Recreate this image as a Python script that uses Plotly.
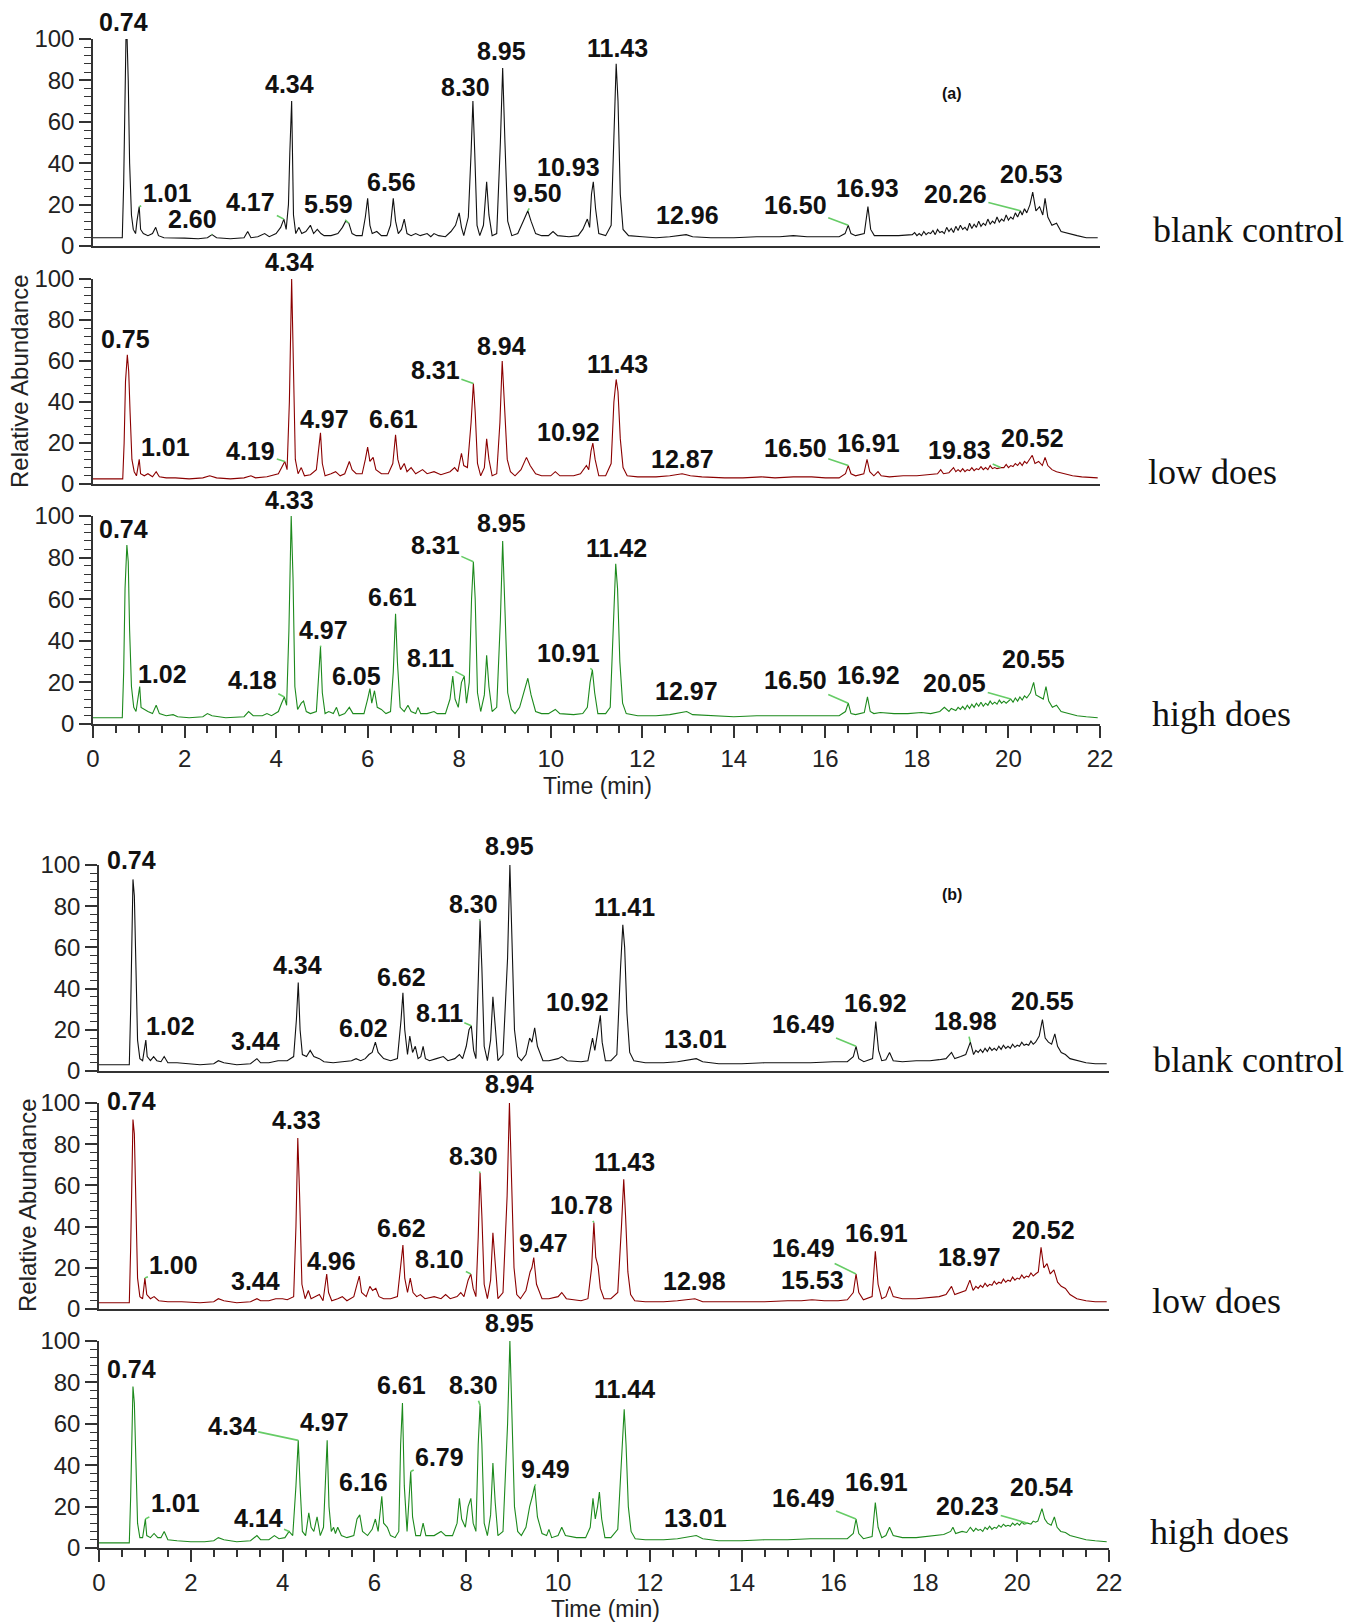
import numpy as np
import plotly.graph_objects as go

W, H = 1357, 1622

# ---------------- data: (time [min], relative abundance [%])
A_BLANK = [(0,4),(0.64,4),(0.67,30),(0.70,80),(0.72,100),(0.745,100),(0.77,80),(0.80,40),(0.84,15),(0.88,8),(0.93,6),(0.96,12),(1.01,19),(1.04,8),(1.1,6),(1.2,5),(1.3,6),(1.37,9),(1.43,5),(1.55,4),(1.75,4),(2.0,3.8),(2.3,3.5),(2.5,4),(2.6,5.5),(2.7,4),(3.0,3.5),(3.3,4),(3.38,7),(3.45,4),(3.6,4.5),(3.75,6),(3.85,4.5),(4.0,6),(4.1,9),(4.17,13),(4.22,8),(4.27,20),(4.30,45),(4.34,70),(4.38,15),(4.43,6),(4.5,9),(4.56,6),(4.65,7),(4.75,10),(4.82,6),(4.9,8),(4.98,6),(5.05,5),(5.2,5),(5.35,6),(5.45,9),(5.52,12),(5.59,11),(5.66,6),(5.75,5),(5.88,5),(5.95,14),(6.0,23),(6.05,10),(6.1,6),(6.2,7),(6.3,5),(6.42,5),(6.5,10),(6.56,23),(6.61,12),(6.67,6),(6.74,8),(6.8,13),(6.86,6),(6.95,5),(7.05,6),(7.15,5),(7.3,6),(7.38,4.5),(7.45,6),(7.55,5),(7.7,4.5),(7.82,7),(7.92,10),(8.0,16),(8.05,9),(8.1,5),(8.2,14),(8.26,45),(8.30,70),(8.34,45),(8.39,10),(8.45,5),(8.53,10),(8.6,31),(8.65,15),(8.72,5),(8.82,6),(8.9,50),(8.95,86),(9.0,50),(9.06,12),(9.15,5),(9.28,6),(9.4,12),(9.5,17),(9.57,12),(9.67,6),(9.8,5),(9.95,5),(10.05,7),(10.15,5),(10.4,4.5),(10.6,5),(10.7,8),(10.8,13),(10.85,9),(10.89,25),(10.93,31),(10.98,18),(11.05,6),(11.2,5),(11.32,10),(11.38,55),(11.43,88),(11.47,70),(11.52,25),(11.58,8),(11.7,5),(12.0,4.5),(12.3,4),(12.6,4.5),(12.85,5),(12.96,5.5),(13.1,4.5),(13.5,4),(14.0,4),(14.5,4.5),(15.0,4.5),(15.3,5),(15.6,4.5),(16.0,4.5),(16.3,4.5),(16.43,6),(16.5,10),(16.56,6),(16.66,5),(16.85,6),(16.93,19),(16.99,8),(17.07,5),(17.3,5),(17.6,5),(17.9,5.5),(17.95,6.5),(18.0,5),(18.05,6),(18.1,5),(18.15,7),(18.2,5.5),(18.25,6.5),(18.3,6),(18.35,7.5),(18.4,5.5),(18.45,8),(18.5,6.5),(18.55,7),(18.6,6),(18.65,9),(18.7,7),(18.75,8.5),(18.8,6.5),(18.85,9.5),(18.9,7.5),(18.95,10),(19.0,8),(19.05,9),(19.1,7.5),(19.15,11),(19.2,8.5),(19.25,10.5),(19.3,9),(19.35,12),(19.4,9.5),(19.45,11),(19.5,10),(19.55,13),(19.6,10.5),(19.65,12),(19.7,11),(19.75,14),(19.8,11.5),(19.85,13),(19.9,12),(19.95,15),(20.0,12.5),(20.05,14),(20.1,13),(20.15,16),(20.2,14),(20.26,17),(20.3,15),(20.35,18),(20.4,16),(20.47,20),(20.53,26),(20.6,17),(20.68,19),(20.75,15),(20.8,23),(20.86,14),(20.95,10),(21.05,11),(21.15,7),(21.3,6),(21.5,5),(21.7,4),(21.95,4)]

A_LOW = [(0,2.5),(0.65,2.5),(0.68,20),(0.71,50),(0.75,63),(0.78,55),(0.81,35),(0.85,12),(0.9,6),(0.95,4),(1.01,12),(1.04,5),(1.12,4),(1.2,5),(1.3,3.5),(1.38,6),(1.45,3.5),(1.6,3),(1.8,3),(2.1,2.5),(2.4,3),(2.55,4),(2.7,3),(3.0,2.5),(3.3,3),(3.45,4),(3.55,3),(3.8,3.5),(4.05,5),(4.12,8),(4.19,11),(4.24,7),(4.29,40),(4.34,100),(4.38,60),(4.42,12),(4.48,5),(4.55,8),(4.62,4),(4.75,4.5),(4.88,7),(4.93,18),(4.97,25),(5.01,10),(5.07,4),(5.2,5),(5.3,6),(5.4,4),(5.5,5),(5.6,11),(5.66,7),(5.75,5),(5.88,5),(5.95,12),(6.0,18),(6.05,11),(6.12,13),(6.18,7),(6.3,5),(6.45,5),(6.55,10),(6.61,24),(6.66,12),(6.72,7),(6.8,10),(6.86,6),(6.95,8),(7.05,5),(7.2,7),(7.3,5),(7.45,6),(7.6,4.5),(7.8,6),(7.9,8),(7.97,6),(8.05,15),(8.1,9),(8.18,8),(8.26,30),(8.31,49),(8.35,35),(8.4,10),(8.47,4),(8.55,8),(8.6,22),(8.65,12),(8.72,4),(8.82,5),(8.89,30),(8.94,60),(8.99,40),(9.05,12),(9.12,6),(9.22,4),(9.35,7),(9.47,13),(9.55,9),(9.67,5),(9.8,4),(10.0,4),(10.1,6),(10.2,4),(10.5,4),(10.65,5),(10.78,9),(10.83,7),(10.88,16),(10.92,20),(10.97,12),(11.05,4),(11.2,4),(11.32,10),(11.38,40),(11.43,51),(11.47,45),(11.52,22),(11.58,8),(11.67,4),(11.9,3.5),(12.3,3.5),(12.6,4),(12.87,5),(13.05,4),(13.3,3.5),(13.8,3),(14.2,3),(14.6,3.5),(14.9,3),(15.3,3.5),(15.7,3.5),(16.0,3),(16.3,3),(16.44,5),(16.5,9),(16.56,5),(16.66,4),(16.84,5),(16.91,12),(16.97,6),(17.06,4),(17.15,6),(17.22,4),(17.4,3.5),(17.7,4),(18.0,4),(18.3,4.5),(18.45,5),(18.52,7),(18.58,5),(18.7,5.5),(18.75,7),(18.8,8),(18.85,6),(18.9,7),(18.95,6),(19.0,7.5),(19.05,6),(19.1,7),(19.15,6.5),(19.2,8),(19.25,6.5),(19.3,7.5),(19.35,7),(19.4,8.5),(19.45,7),(19.5,8),(19.55,7),(19.6,9),(19.65,7.5),(19.7,8),(19.75,7.5),(19.83,8),(19.9,8),(19.95,9.5),(20.0,8),(20.05,9),(20.1,8.5),(20.15,10),(20.2,9),(20.25,10.5),(20.3,9),(20.35,11),(20.4,10),(20.47,12),(20.52,14),(20.58,10),(20.66,11),(20.74,9),(20.8,13),(20.86,9),(20.95,7),(21.05,6),(21.2,5),(21.4,4),(21.6,3.5),(21.95,3)]

A_HIGH = [(0,3),(0.64,3),(0.67,25),(0.70,65),(0.74,86),(0.77,78),(0.80,45),(0.84,18),(0.89,8),(0.94,6),(0.98,12),(1.02,18),(1.05,8),(1.12,7),(1.2,6),(1.3,5),(1.38,9),(1.45,5),(1.6,4),(1.75,4.5),(1.85,3.5),(2.1,3),(2.4,3.5),(2.5,5),(2.6,4),(2.9,3),(3.3,3.5),(3.4,6),(3.5,4),(3.7,4),(3.8,5),(3.9,4),(4.05,6),(4.12,10),(4.18,13),(4.23,9),(4.28,45),(4.33,100),(4.37,70),(4.41,18),(4.47,7),(4.55,10),(4.6,11),(4.66,6),(4.75,5),(4.88,6),(4.93,25),(4.97,37),(5.01,15),(5.07,5),(5.15,6),(5.25,5),(5.32,8),(5.38,4),(5.5,5),(5.6,8),(5.68,5),(5.8,5),(5.92,5),(6.0,12),(6.05,17),(6.09,10),(6.15,16),(6.21,8),(6.3,7),(6.4,5),(6.5,6),(6.56,25),(6.61,53),(6.65,30),(6.71,8),(6.8,6),(6.88,9),(6.95,6),(7.05,5),(7.1,8),(7.16,5),(7.3,5),(7.45,6),(7.52,5),(7.7,5),(7.8,12),(7.86,23),(7.91,12),(7.98,8),(8.05,20),(8.11,23),(8.16,10),(8.22,20),(8.27,60),(8.31,78),(8.35,60),(8.4,15),(8.47,6),(8.55,14),(8.6,33),(8.65,18),(8.72,6),(8.82,8),(8.9,50),(8.95,88),(9.0,55),(9.06,15),(9.14,7),(9.22,5),(9.32,8),(9.43,16),(9.5,22),(9.57,14),(9.67,6),(9.8,5),(9.95,5),(10.1,7),(10.2,5),(10.5,4.5),(10.7,5),(10.8,8),(10.86,20),(10.91,26),(10.96,15),(11.03,5),(11.2,5),(11.3,8),(11.37,50),(11.42,77),(11.46,65),(11.51,30),(11.57,10),(11.65,5),(11.9,4),(12.3,4),(12.6,4.5),(12.85,5.5),(12.97,6),(13.1,4.5),(13.5,4),(14.0,3.5),(14.5,4),(15.0,4),(15.5,4),(16.0,4),(16.3,4),(16.44,6),(16.5,10),(16.56,5),(16.66,4.5),(16.85,5.5),(16.92,13),(16.98,6),(17.06,5),(17.2,5.5),(17.5,5),(17.8,5),(18.1,5.5),(18.3,5),(18.5,6),(18.6,8),(18.7,6),(18.75,7.5),(18.8,7),(18.85,6.5),(18.9,8),(18.95,7),(19.0,8.5),(19.05,7),(19.1,9),(19.15,7.5),(19.2,9.5),(19.25,8),(19.3,10),(19.35,8.5),(19.4,10.5),(19.45,8.5),(19.5,10),(19.55,9),(19.6,11),(19.65,9.5),(19.7,10.5),(19.75,9.5),(19.8,11.5),(19.85,10),(19.9,11),(19.95,10),(20.05,12),(20.1,10.5),(20.15,12.5),(20.2,11),(20.25,13),(20.3,11.5),(20.35,13.5),(20.4,12.5),(20.48,15),(20.55,20),(20.6,14),(20.68,13),(20.76,12),(20.82,18),(20.88,11),(20.96,8),(21.05,9),(21.15,6),(21.3,5),(21.5,4),(21.7,3.5),(21.95,3)]

B_BLANK = [(0,3),(0.66,3),(0.69,30),(0.72,80),(0.74,93),(0.77,85),(0.80,50),(0.84,15),(0.89,6),(0.95,5),(1.02,15),(1.05,7),(1.12,5),(1.19,7),(1.26,5),(1.35,4.5),(1.42,7),(1.5,4),(1.7,4),(1.9,3.5),(2.2,3),(2.5,3.5),(2.6,5),(2.72,4),(3.0,3),(3.3,3.5),(3.44,6),(3.52,4),(3.7,4),(3.9,5),(4.1,5),(4.24,7),(4.3,25),(4.34,43),(4.38,20),(4.43,8),(4.52,7),(4.6,10),(4.68,7),(4.8,6),(4.9,4.5),(5.1,4),(5.3,4.5),(5.5,5),(5.6,6),(5.7,5),(5.8,6),(5.88,8),(5.95,9),(6.02,14),(6.08,9),(6.2,6),(6.35,5),(6.5,6),(6.58,25),(6.62,38),(6.66,20),(6.72,8),(6.77,17),(6.83,9),(6.89,12),(6.95,6),(7.01,7),(7.06,12),(7.11,6),(7.2,5),(7.35,6),(7.5,7),(7.6,5),(7.75,6),(7.85,8),(7.92,6),(8.0,12),(8.06,20),(8.11,22),(8.16,10),(8.21,6),(8.26,40),(8.30,73),(8.34,50),(8.39,12),(8.46,5),(8.53,15),(8.58,36),(8.63,20),(8.69,5),(8.8,8),(8.9,55),(8.95,100),(9.0,65),(9.05,20),(9.12,7),(9.2,5),(9.3,8),(9.38,16),(9.43,14),(9.49,21),(9.55,12),(9.67,5),(9.8,5),(10.0,6),(10.08,7),(10.2,5),(10.5,4.5),(10.65,5),(10.75,16),(10.8,10),(10.87,20),(10.92,27),(10.96,14),(11.03,5),(11.15,5),(11.28,8),(11.36,50),(11.41,71),(11.45,60),(11.5,28),(11.56,9),(11.65,5),(11.9,4),(12.3,4),(12.6,4.5),(12.9,5.5),(13.01,6),(13.15,4.5),(13.5,3.5),(14.0,3.5),(14.5,4),(15.0,4),(15.5,4),(16.0,4.5),(16.3,4.5),(16.43,7),(16.49,12),(16.55,6),(16.66,4.5),(16.85,6),(16.92,24),(16.98,10),(17.05,5),(17.14,5.5),(17.22,9),(17.3,5),(17.5,4.5),(17.8,5),(18.1,5),(18.3,5.5),(18.45,6),(18.57,9),(18.64,6),(18.77,7),(18.88,8),(18.98,14),(19.05,8),(19.1,10),(19.15,9),(19.2,10.5),(19.25,9),(19.3,11),(19.35,9.5),(19.4,11.5),(19.45,10),(19.5,11),(19.55,10),(19.6,12),(19.65,10.5),(19.7,12.5),(19.75,11),(19.8,12),(19.85,11),(19.9,13),(19.95,11.5),(20.0,12.5),(20.05,12),(20.1,14),(20.15,12.5),(20.2,13),(20.25,12.5),(20.3,14.5),(20.35,13),(20.4,14),(20.48,17),(20.55,25),(20.61,16),(20.68,14),(20.75,13),(20.82,18),(20.88,12),(20.96,9),(21.05,8),(21.15,6),(21.3,5),(21.5,4),(21.7,3.5),(21.95,3.5)]

B_LOW = [(0,3),(0.66,3),(0.69,30),(0.72,80),(0.74,92),(0.77,85),(0.80,50),(0.84,15),(0.89,6),(0.95,5),(1.0,15),(1.04,7),(1.12,5),(1.2,6),(1.3,4),(1.5,3.5),(1.8,3.5),(2.2,3),(2.5,3.5),(2.6,5),(2.72,4),(3.0,3),(3.3,3.5),(3.44,5),(3.52,4),(3.7,4),(3.85,5),(4.0,5),(4.1,4.5),(4.24,6),(4.29,40),(4.33,83),(4.37,55),(4.42,12),(4.49,5),(4.56,9),(4.62,5),(4.72,6),(4.8,7),(4.88,4),(4.96,17),(5.0,8),(5.07,4),(5.2,5),(5.3,6),(5.4,4),(5.55,6),(5.62,12),(5.67,16),(5.72,8),(5.82,6),(5.9,11),(5.96,9),(6.03,10),(6.1,6),(6.2,5),(6.35,5),(6.5,6),(6.58,25),(6.62,31),(6.66,15),(6.72,8),(6.78,15),(6.84,8),(6.92,6),(7.0,7),(7.1,5),(7.3,6),(7.45,5),(7.55,7),(7.65,5),(7.8,6),(7.88,8),(7.95,6),(8.04,14),(8.1,17),(8.15,10),(8.21,6),(8.26,35),(8.30,66),(8.34,45),(8.39,12),(8.46,5),(8.53,14),(8.58,37),(8.63,20),(8.69,5),(8.8,8),(8.89,55),(8.94,100),(8.99,65),(9.04,20),(9.1,7),(9.18,5),(9.3,9),(9.39,18),(9.43,20),(9.47,25),(9.53,12),(9.65,5),(9.8,5),(10.0,6),(10.08,8),(10.18,5),(10.5,4),(10.65,5),(10.73,20),(10.78,42),(10.82,25),(10.87,21),(10.92,10),(11.0,5),(11.15,5),(11.3,8),(11.38,40),(11.43,63),(11.47,45),(11.52,18),(11.58,7),(11.67,4),(11.9,3.5),(12.3,3.5),(12.6,4),(12.9,5),(12.98,5),(13.15,3.5),(13.5,3.5),(14.0,3.5),(14.5,3.5),(15.0,4),(15.3,4),(15.53,4.5),(15.8,4),(16.1,4),(16.3,4.5),(16.43,8),(16.49,17),(16.55,8),(16.65,4.5),(16.84,6),(16.91,28),(16.97,12),(17.05,5),(17.14,6),(17.22,11),(17.3,6),(17.5,5),(17.8,5),(18.1,5.5),(18.3,6),(18.45,7),(18.57,11),(18.64,7),(18.77,8),(18.88,9),(18.97,14),(19.04,9),(19.1,11),(19.15,10),(19.2,11.5),(19.25,10.5),(19.3,12.5),(19.35,11),(19.4,12),(19.45,11.5),(19.5,13.5),(19.55,12),(19.6,13),(19.65,12.5),(19.7,14.5),(19.75,13),(19.8,14),(19.85,13.5),(19.9,15.5),(19.95,14),(20.0,15),(20.05,14.5),(20.1,16.5),(20.15,15),(20.2,16),(20.25,15.5),(20.3,17.5),(20.35,16),(20.4,17),(20.46,18),(20.52,30),(20.58,20),(20.65,22),(20.72,17),(20.8,19),(20.88,13),(20.96,11),(21.05,10),(21.15,7),(21.3,5),(21.5,4),(21.7,3.5),(21.95,3.5)]

B_HIGH = [(0,2.5),(0.66,2.5),(0.69,25),(0.72,65),(0.74,78),(0.77,70),(0.80,40),(0.84,12),(0.89,5),(0.95,5),(1.01,14),(1.04,6),(1.12,5),(1.2,7),(1.28,5),(1.35,5),(1.42,8),(1.5,4),(1.7,3.5),(2.0,3),(2.3,3),(2.5,3.5),(2.6,5),(2.72,4),(3.0,3),(3.3,3.5),(3.44,6),(3.52,4),(3.7,4),(3.82,6),(3.92,4.5),(4.05,5),(4.14,8),(4.22,6),(4.29,30),(4.34,52),(4.38,30),(4.43,8),(4.5,6),(4.57,17),(4.62,10),(4.68,8),(4.75,15),(4.82,6),(4.89,10),(4.93,35),(4.97,52),(5.01,20),(5.06,8),(5.11,10),(5.15,7),(5.2,10),(5.28,6),(5.4,5),(5.55,6),(5.62,14),(5.68,16),(5.74,8),(5.85,6),(5.95,9),(6.02,14),(6.08,8),(6.13,20),(6.16,25),(6.2,12),(6.28,10),(6.35,6),(6.45,5),(6.53,8),(6.57,50),(6.61,70),(6.65,30),(6.71,8),(6.76,30),(6.79,37),(6.83,15),(6.9,6),(7.0,6),(7.06,12),(7.12,6),(7.3,6),(7.45,8),(7.55,6),(7.7,6),(7.8,12),(7.85,24),(7.9,14),(7.98,10),(8.04,20),(8.1,24),(8.15,12),(8.21,8),(8.26,50),(8.30,69),(8.34,50),(8.39,12),(8.46,6),(8.53,16),(8.58,41),(8.63,22),(8.69,6),(8.8,8),(8.9,60),(8.95,100),(9.0,65),(9.05,20),(9.12,8),(9.2,6),(9.3,10),(9.38,20),(9.44,25),(9.49,30),(9.55,15),(9.65,7),(9.75,6),(9.8,9),(9.86,5),(10.0,6),(10.08,10),(10.16,6),(10.4,5),(10.6,5),(10.7,10),(10.76,24),(10.81,14),(10.86,20),(10.9,27),(10.95,14),(11.02,5),(11.15,5),(11.3,9),(11.39,50),(11.44,67),(11.48,50),(11.53,20),(11.59,8),(11.68,4.5),(11.9,4),(12.3,4),(12.6,4.5),(12.9,5.5),(13.01,6),(13.15,4.5),(13.5,3.5),(14.0,3.5),(14.5,4),(15.0,4),(15.5,4.5),(16.0,4.5),(16.3,4.5),(16.43,7),(16.49,14),(16.55,7),(16.65,4.5),(16.84,5.5),(16.91,22),(16.97,10),(17.05,5),(17.14,6),(17.22,10),(17.3,6),(17.5,5),(17.8,5),(18.0,5.5),(18.2,6),(18.4,6.5),(18.55,8),(18.6,10),(18.66,7),(18.8,8),(18.9,7.5),(18.98,10),(19.05,8),(19.1,9.5),(19.15,8.5),(19.2,9),(19.25,8),(19.3,10),(19.35,9),(19.4,10.5),(19.45,9),(19.5,10),(19.55,9.5),(19.6,11),(19.65,10),(19.7,11.5),(19.75,10.5),(19.8,11),(19.85,10.5),(19.9,12),(19.95,11),(20.0,12),(20.05,11),(20.1,12.5),(20.15,11.5),(20.23,12),(20.3,11.5),(20.35,13),(20.4,12.5),(20.45,13),(20.54,19),(20.6,14),(20.66,12),(20.74,11),(20.81,15),(20.87,10),(20.95,8),(21.05,7.5),(21.15,6),(21.3,5),(21.5,4),(21.7,3.5),(21.95,3)]

# peak labels (retention times shown on the chart)
A_BLANK_LABELS = ["0.74","1.01","2.60","4.17","4.34","5.59","6.56","8.30","8.95","9.50","10.93","11.43","12.96","16.50","16.93","20.26","20.53"]
A_LOW_LABELS = ["0.75","1.01","4.19","4.34","4.97","6.61","8.31","8.94","10.92","11.43","12.87","16.50","16.91","19.83","20.52"]
A_HIGH_LABELS = ["0.74","1.02","4.18","4.33","4.97","6.05","6.61","8.11","8.31","8.95","10.91","11.42","12.97","16.50","16.92","20.05","20.55"]
B_BLANK_LABELS = ["0.74","1.02","3.44","4.34","6.02","6.62","8.11","8.30","8.95","10.92","11.41","13.01","16.49","16.92","18.98","20.55"]
B_LOW_LABELS = ["0.74","1.00","3.44","4.33","4.96","6.62","8.10","8.30","8.94","9.47","10.78","11.43","12.98","15.53","16.49","16.91","18.97","20.52"]
B_HIGH_LABELS = ["0.74","1.01","4.14","4.34","4.97","6.16","6.61","6.79","8.30","8.95","9.49","11.44","13.01","16.49","16.91","20.23","20.54"]

SAMPLE_NAMES = ["blank control", "low does", "high does"]
X_TICKS = [0, 2, 4, 6, 8, 10, 12, 14, 16, 18, 20, 22]
Y_TICKS = [0, 20, 40, 60, 80, 100]

# ---------------- layout helpers: label offsets in px (dx, dy, leader line?)
OFF_A_BLANK = [(-3,-17,0),(28,-14,1),(-20,-16,1),(-33,-17,1),(-2,-17,0),(-20,-19,1),(-2,-16,0),(-7,-14,1),(-1,-17,0),(10,-18,1),(-25,-15,1),(1,-16,0),(1,-20,0),(-53,-20,1),(0,-19,0),(-65,-17,1),(-1,-18,0)]
OFF_A_LOW = [(-2,-16,0),(26,-12,1),(-34,-10,1),(-2,-17,0),(4,-14,1),(-2,-16,0),(-38,-14,1),(-1,-15,0),(-24,-11,1),(1,-15,0),(0,-15,0),(-53,-18,1),(1,-16,0),(-41,-18,1),(0,-17,0)]
OFF_A_HIGH = [(-3,-16,0),(23,-13,1),(-32,-17,1),(-2,-16,0),(3,-17,1),(-13,-13,1),(-3,-17,0),(-34,-18,1),(-38,-17,1),(-1,-18,0),(-24,-17,1),(1,-16,0),(0,-21,0),(-53,-23,1),(1,-22,0),(-56,-16,1),(0,-23,0)]
OFF_B_BLANK = [(-1,-19,0),(25,-14,1),(-1,-18,0),(-1,-17,0),(-12,-14,1),(-1,-16,0),(-32,-13,1),(-7,-17,1),(0,-19,0),(-23,-13,1),(2,-18,0),(-1,-20,0),(-53,-22,1),(0,-19,0),(-5,-21,1),(0,-18,0)]
OFF_B_LOW = [(-1,-18,0),(29,-13,1),(-1,-18,0),(-1,-18,0),(5,-13,1),(-1,-17,0),(-31,-15,1),(-7,-17,1),(0,-19,0),(10,-15,1),(-12,-17,1),(1,-17,0),(0,-18,0),(1,-20,0),(-53,-26,1),(1,-18,0),(0,-23,0),(2,-17,0)]
OFF_B_HIGH = [(-1,-18,0),(30,-16,1),(-31,-13,1),(-66,-14,1),(-3,-18,0),(-18,-14,1),(-1,-18,0),(29,-14,1),(-7,-20,1),(0,-18,0),(11,-17,1),(0,-20,0),(-1,-18,0),(-53,-21,1),(1,-20,0),(-60,-17,1),(0,-22,0)]

BLACK, RED, GREEN = "#111111", "#8b0000", "#1d8a1d"
LEADER = "#66cc66"
SANS = "Liberation Sans, Arial, sans-serif"
SERIF = "Liberation Serif, Times New Roman, serif"

XA = (93, 1100)
XB = (99, 1109)
PANELS = [
    (A_BLANK, A_BLANK_LABELS, OFF_A_BLANK, BLACK, XA, (246, 39), False, 0),
    (A_LOW, A_LOW_LABELS, OFF_A_LOW, RED, XA, (484, 279), False, 1),
    (A_HIGH, A_HIGH_LABELS, OFF_A_HIGH, GREEN, XA, (724, 516), True, 2),
    (B_BLANK, B_BLANK_LABELS, OFF_B_BLANK, BLACK, XB, (1071, 865), False, 0),
    (B_LOW, B_LOW_LABELS, OFF_B_LOW, RED, XB, (1309, 1103), False, 1),
    (B_HIGH, B_HIGH_LABELS, OFF_B_HIGH, GREEN, XB, (1548, 1341), True, 2),
]
NAME_POS = [(1151, 230), (1146, 472), (1150, 714), (1151, 1060), (1150, 1301), (1148, 1532)]

fig = go.Figure()
layout = dict(width=W, height=H, margin=dict(l=0, r=0, t=0, b=0, pad=0, autoexpand=False), autosize=False,
              paper_bgcolor="white", plot_bgcolor="white", showlegend=False, template="none")
annotations = []

for i, (data, labels, offs, color, xpx, ypx, bottom, kind) in enumerate(PANELS, start=1):
    t = [p[0] for p in data]
    a = [p[1] for p in data]
    xs = "" if i == 1 else str(i)
    fig.add_trace(go.Scatter(x=t, y=a, mode="lines", line=dict(color=color, width=1.1),
                             xaxis="x" + xs, yaxis="y" + xs, hoverinfo="skip"))
    xdom = [xpx[0] / W, xpx[1] / W]
    ydom = [1 - ypx[0] / H, 1 - ypx[1] / H]
    xa = dict(domain=xdom, range=[0, 22], anchor="y" + xs, showgrid=False, zeroline=False,
              showline=True, linecolor="#333333", linewidth=2, fixedrange=True, automargin=False)
    if bottom:
        xa.update(ticks="outside", tickvals=X_TICKS, ticklen=12, tickwidth=1.5, tickcolor="#333333",
                  minor=dict(dtick=0.5, tick0=0, ticklen=7, tickwidth=1.5, ticks="outside", tickcolor="#333333"),
                  tickfont=dict(family=SANS, size=24, color="#222222"), showticklabels=True)
    else:
        xa.update(ticks="", showticklabels=False)
    ya = dict(domain=ydom, range=[0, 100], anchor="x" + xs, showgrid=False, zeroline=False,
              showline=True, linecolor="#333333", linewidth=1.5, ticks="outside",
              tickvals=Y_TICKS, ticklen=12, tickwidth=1.5, tickcolor="#333333",
              minor=dict(dtick=4, tick0=0, ticklen=7, tickwidth=1.2, ticks="outside", tickcolor="#333333"),
              tickfont=dict(family=SANS, size=24, color="#222222"), fixedrange=True, automargin=False)
    layout["xaxis" + xs] = xa
    layout["yaxis" + xs] = ya

    for lab, (dx, dy, lead) in zip(labels, offs):
        tx = float(lab)
        hy = float(np.interp(tx, t, a))
        common = dict(x=tx, y=hy, xref="x" + xs, yref="y" + xs, text="<b>" + lab + "</b>",
                      font=dict(family=SANS, size=25, color="#111111"))
        if lead:
            annotations.append(dict(**common, showarrow=True, ax=dx, ay=dy, arrowhead=0,
                                    arrowwidth=1.6, arrowcolor=LEADER, standoff=0, startstandoff=0))
        else:
            annotations.append(dict(**common, showarrow=False, xshift=dx, yshift=-dy))
    nx, ny = NAME_POS[i - 1]
    annotations.append(dict(x=nx / W, y=1 - ny / H, xref="paper", yref="paper", xanchor="left",
                            yanchor="middle", text=SAMPLE_NAMES[kind], showarrow=False,
                            font=dict(family=SERIF, size=36, color="#111111")))

for (txt, px, py, ang, sz) in [("Relative Abundance", 19, 381, -90, 24), ("Relative Abundance", 27, 1205, -90, 24),
                               ("Time (min)", 597, 786, 0, 23), ("Time (min)", 605, 1609, 0, 23)]:
    annotations.append(dict(x=px / W, y=1 - py / H, xref="paper", yref="paper", text=txt,
                            textangle=ang, showarrow=False, xanchor="center", yanchor="middle",
                            font=dict(family=SANS, size=sz, color="#222222")))
for txt, px, py in [("(a)", 964, 83), ("(b)", 964, 894)]:
    annotations.append(dict(x=px / W, y=1 - py / H, xref="paper", yref="paper", text="<b>" + txt + "</b>",
                            showarrow=False, font=dict(family=SANS, size=16, color="#111111")))

layout["annotations"] = annotations
fig.update_layout(**layout)
fig.write_html("out.html",
               post_script="document.body.style.margin='0';document.body.style.padding='0';"
                           "document.body.style.overflow='hidden';"
                           "document.documentElement.style.overflow='hidden';")
